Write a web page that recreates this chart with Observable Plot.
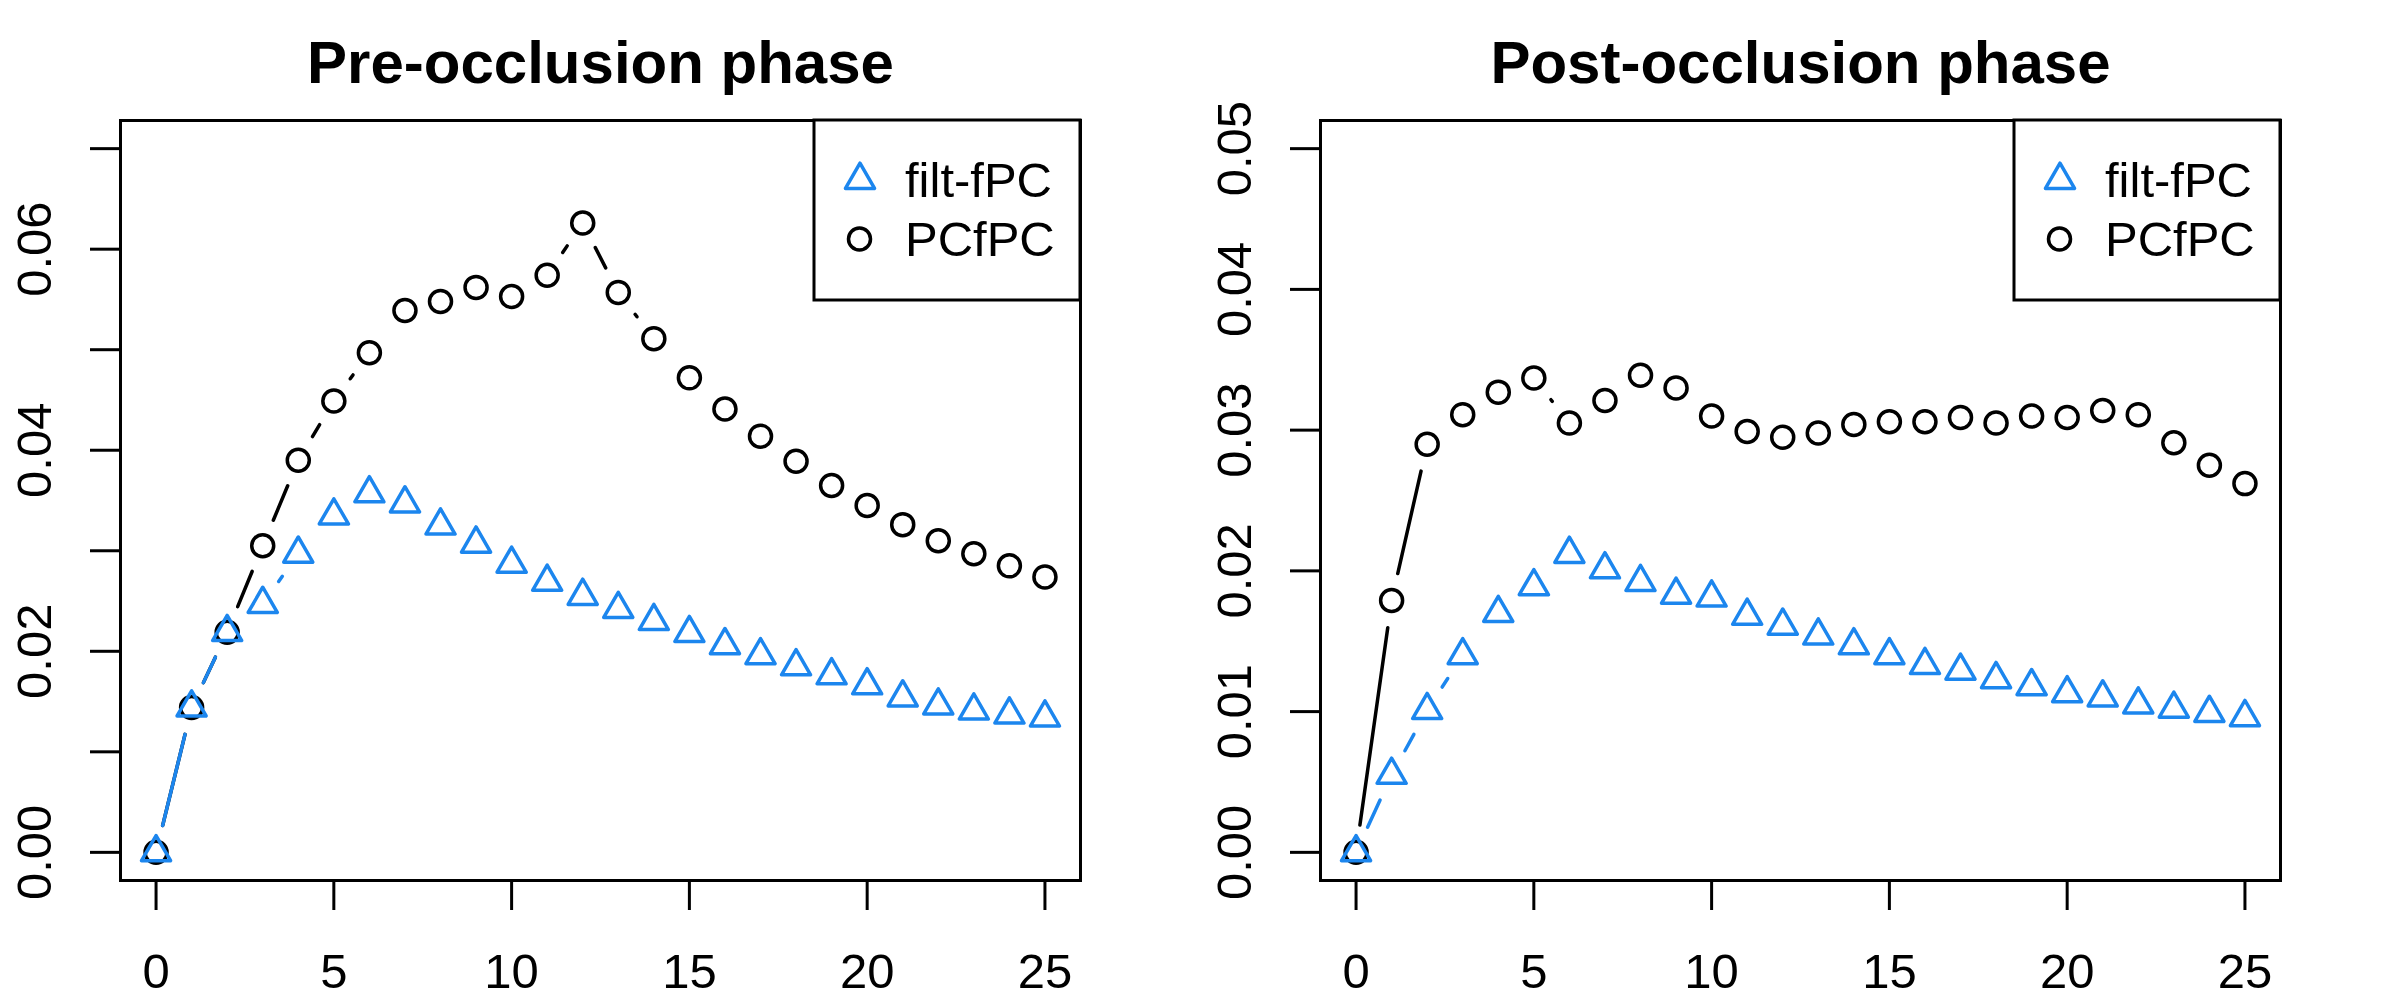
<!DOCTYPE html>
<html><head><meta charset="utf-8">
<script src="https://cdn.jsdelivr.net/npm/d3@7"></script>
<script src="https://cdn.jsdelivr.net/npm/@observablehq/plot@0.6"></script>
<style>
html,body{margin:0;padding:0;background:#fff;}
#root{position:relative;width:2400px;height:1000px;font-family:"Liberation Sans",Arial,sans-serif;}
.panel{position:absolute;top:0;width:1200px;height:1000px;}
.panel > svg.plot{position:absolute;left:0;top:0;}
.legend{position:absolute;left:800px;top:100px;}
</style></head><body><div id="root"></div>
<script>
// ---- data ----
const lags = [0,1,2,3,4,5,6,7,8,9,10,11,12,13,14,15,16,17,18,19,20,21,22,23,24,25];
const seriesNames = ["filt-fPC", "PCfPC"];
const seriesColors = ["#1C86EE", "#000000"];
const titles = ["Pre-occlusion phase", "Post-occlusion phase"];

const preFilt = [0, 0.0144, 0.0219, 0.0247, 0.0297, 0.0335, 0.0357, 0.0347, 0.0325, 0.0307, 0.0287, 0.0269, 0.0255, 0.0242, 0.0230, 0.0218, 0.0206, 0.0196, 0.0185, 0.0176, 0.0166, 0.0154, 0.0146, 0.0141, 0.0137, 0.0134];
const prePCf  = [0, 0.0144, 0.0219, 0.0305, 0.0390, 0.0449, 0.0497, 0.0539, 0.0548, 0.0562, 0.0553, 0.0574, 0.0626, 0.0557, 0.0511, 0.0472, 0.0441, 0.0414, 0.0389, 0.0365, 0.0345, 0.0326, 0.0310, 0.0297, 0.0285, 0.0274];
const postFilt = [0, 0.0055, 0.0101, 0.0140, 0.0170, 0.0189, 0.0212, 0.0201, 0.0192, 0.0183, 0.0181, 0.0168, 0.0161, 0.0154, 0.0147, 0.0140, 0.0133, 0.0129, 0.0123, 0.0118, 0.0113, 0.0110, 0.0105, 0.0102, 0.0099, 0.0096];
const postPCf  = [0, 0.0179, 0.0290, 0.0311, 0.0327, 0.0337, 0.0305, 0.0321, 0.0339, 0.0330, 0.0310, 0.0299, 0.0295, 0.0298, 0.0304, 0.0306, 0.0306, 0.0309, 0.0305, 0.0310, 0.0309, 0.0314, 0.0311, 0.0291, 0.0275, 0.0262];

const xTicks = [0, 5, 10, 15, 20, 25];
const xTickLabels = ["0", "5", "10", "15", "20", "25"];
const xLim = [0, 25];
const preYTicks = [0, 0.01, 0.02, 0.03, 0.04, 0.05, 0.06, 0.07];
const preYLabels = ["0.00", "", "0.02", "", "0.04", "", "0.06", ""];
const preYLim = [0, 0.07];
const postYTicks = [0, 0.01, 0.02, 0.03, 0.04, 0.05];
const postYLabels = ["0.00", "0.01", "0.02", "0.03", "0.04", "0.05"];
const postYLim = [0, 0.05];

// ---- layout ----
const W = 1200, H = 1000, M = 120;
const FONT = "Liberation Sans, Arial, Helvetica, sans-serif";
const FS = 49;
const LW = 3.5, RC = 11, RT = 10.8, GAP = 27.6;

function ext([a, b]) { const d = (b - a) * 0.04; return [a - d, b + d]; }

function gapSegments(xs, ys, sx, sy, gap) {
  const segs = [];
  for (let i = 1; i < xs.length; i++) {
    const x0 = sx.apply(xs[i-1]), y0 = sy.apply(ys[i-1]);
    const x1 = sx.apply(xs[i]), y1 = sy.apply(ys[i]);
    const dx = x1 - x0, dy = y1 - y0, d = Math.hypot(dx, dy);
    if (d > 2 * gap) {
      const f = gap / d;
      segs.push({
        x1: sx.invert(x0 + dx * f), y1: sy.invert(y0 + dy * f),
        x2: sx.invert(x1 - dx * f), y2: sy.invert(y1 - dy * f)
      });
    }
  }
  return segs;
}

function panel(title, filt, pcf, yTicks, yLabels, yLim, left) {
  const xDomain = ext(xLim), yDomain = ext(yLim);
  const sx = Plot.scale({x: {domain: xDomain, range: [M, W - M]}});
  const sy = Plot.scale({y: {domain: yDomain, range: [H - M, M]}});
  const labelOf = new Map(yTicks.map((t, i) => [t, yLabels[i]]));
  const xLabelOf = new Map(xTicks.map((t, i) => [t, xTickLabels[i]]));
  const pcfRows = lags.map((x, i) => ({x, y: pcf[i]}));
  const filtRows = lags.map((x, i) => ({x, y: filt[i]}));
  const svg = Plot.plot({
    width: W, height: H,
    marginLeft: M, marginRight: M, marginTop: M, marginBottom: M,
    style: {fontFamily: FONT, fontSize: FS + "px", background: "transparent", color: "#000", overflow: "visible"},
    x: {domain: xDomain, label: null},
    y: {domain: yDomain, label: null},
    marks: [
      Plot.axisX({ticks: xTicks, tickSize: 30, tickPadding: 42.5, fontSize: FS, strokeWidth: 3, stroke: "#000", fill: "#000", label: null, tickFormat: d => xLabelOf.get(d)}),
      Plot.axisY({ticks: yTicks, tickSize: 30, tickPadding: 40, tickRotate: -90, fontSize: FS, strokeWidth: 3, stroke: "#000", fill: "#000", label: null, tickFormat: d => labelOf.get(d) ?? ""}),
      Plot.frame({stroke: "#000", strokeWidth: 3}),
      Plot.text([title], {frameAnchor: "top", dy: -37.3, lineAnchor: "bottom", text: d => d, fontSize: 60, fontWeight: "bold", fill: "#000"}),
      Plot.link(gapSegments(lags, pcf, sx, sy, GAP), {x1: "x1", y1: "y1", x2: "x2", y2: "y2", stroke: seriesColors[1], strokeWidth: LW, strokeLinecap: "round"}),
      Plot.dot(pcfRows, {x: "x", y: "y", r: RC, symbol: "circle", stroke: seriesColors[1], strokeWidth: LW, fill: "none"}),
      Plot.link(gapSegments(lags, filt, sx, sy, GAP), {x1: "x1", y1: "y1", x2: "x2", y2: "y2", stroke: seriesColors[0], strokeWidth: LW, strokeLinecap: "round"}),
      Plot.dot(filtRows, {x: "x", y: "y", r: RT, symbol: "triangle", stroke: seriesColors[0], strokeWidth: LW, strokeLinejoin: "round", fill: "none"})
    ]
  });
  svg.classList.add("plot");
  const div = document.createElement("div");
  div.className = "panel";
  div.style.left = left + "px";
  div.appendChild(svg);
  // legend
  const ns = "http://www.w3.org/2000/svg";
  const lg = document.createElementNS(ns, "svg");
  lg.setAttribute("class", "legend");
  lg.setAttribute("width", 300); lg.setAttribute("height", 220);
  const tri = d3.symbol(d3.symbolTriangle, Math.PI * RT * RT)();
  lg.innerHTML = `
    <rect x="14" y="20" width="266" height="180" fill="#fff" stroke="#000" stroke-width="3"/>
    <path d="${tri}" transform="translate(60,80)" fill="none" stroke="${seriesColors[0]}" stroke-width="${LW}" stroke-linejoin="round"/>
    <circle cx="59.5" cy="139" r="${RC}" fill="none" stroke="${seriesColors[1]}" stroke-width="${LW}"/>
    <text x="105" y="97" font-family="${FONT}" font-size="${FS}" fill="#000">${seriesNames[0]}</text>
    <text x="105" y="156" font-family="${FONT}" font-size="${FS}" fill="#000">${seriesNames[1]}</text>`;
  div.appendChild(lg);
  document.getElementById("root").appendChild(div);
}

panel(titles[0], preFilt, prePCf, preYTicks, preYLabels, preYLim, 0);
panel(titles[1], postFilt, postPCf, postYTicks, postYLabels, postYLim, 1200);
</script>
</body></html>
